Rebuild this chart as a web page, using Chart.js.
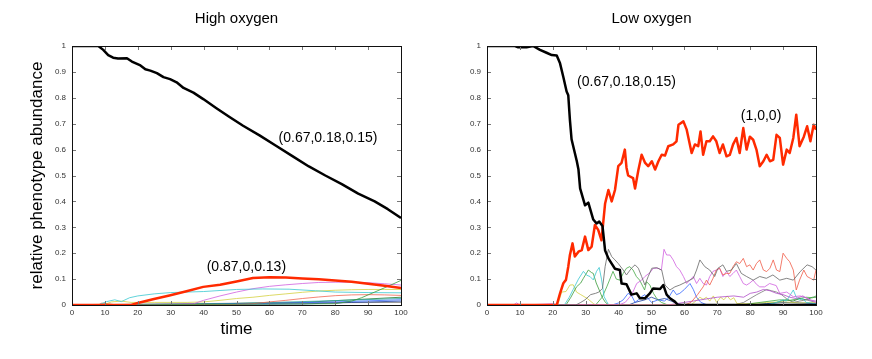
<!DOCTYPE html>
<html>
<head>
<meta charset="utf-8">
<script src="https://cdn.jsdelivr.net/npm/chart.js@4"></script>
<style>
body { margin: 0; background: #fff; }
#wrap { position: relative; width: 872px; height: 359px; }
canvas { position: absolute; top: 0; }
#hi { left: 0; }
#lo { left: 436px; }
</style>
</head>
<body>
<div id="wrap">
  <canvas id="hi" width="436" height="359"></canvas>
  <canvas id="lo" width="436" height="359"></canvas>
</div>
<script>
// ---- High oxygen ----
var hiBlackT = [0, 8, 9.5, 11, 12.5, 14, 16.7, 18.2, 20.8, 22.3, 23.8, 25.8, 27.8, 29.8, 31.8, 33.9, 36.9, 39.9, 43.9, 48, 52, 57, 62, 67, 72, 77, 82, 87, 92, 96, 100];
var hiBlackV = [1, 1, 0.985, 0.965, 0.955, 0.952, 0.953, 0.94, 0.925, 0.91, 0.905, 0.895, 0.88, 0.872, 0.86, 0.838, 0.82, 0.795, 0.76, 0.725, 0.692, 0.655, 0.615, 0.575, 0.535, 0.5, 0.467, 0.43, 0.4, 0.37, 0.336];
var hiRedT = [0, 18, 20, 24.6, 29.6, 34.8, 39.9, 45, 50, 55, 60, 65, 70, 75, 80, 85, 90, 95, 100];
var hiRedV = [0, 0, 0.008, 0.022, 0.037, 0.053, 0.07, 0.078, 0.091, 0.104, 0.107, 0.106, 0.102, 0.099, 0.095, 0.09, 0.082, 0.074, 0.066];
var hiCyanT = [8, 10.5, 13, 15, 17.5, 20, 25, 30, 35, 40, 45, 50, 58, 66, 74, 80, 90, 100];
var hiCyanV = [0, 0.013, 0.02, 0.013, 0.028, 0.035, 0.043, 0.048, 0.05, 0.052, 0.056, 0.06, 0.062, 0.061, 0.055, 0.05, 0.048, 0.047];
var hiMagT = [0, 30, 37, 40, 45, 50, 55, 60, 65, 70, 75, 80, 85, 90, 95, 100];
var hiMagV = [0, 0.003, 0.005, 0.018, 0.035, 0.05, 0.063, 0.072, 0.078, 0.083, 0.087, 0.088, 0.088, 0.086, 0.082, 0.077];
var hiYelT = [0, 10, 12, 15, 18, 25, 35, 40, 45, 50, 55, 60, 65, 70, 75, 80, 85, 90, 95, 100];
var hiYelV = [0, 0.003, 0.012, 0.015, 0.01, 0.01, 0.01, 0.012, 0.018, 0.025, 0.03, 0.037, 0.043, 0.049, 0.054, 0.057, 0.059, 0.06, 0.06, 0.06];
var hiSalT = [0, 8, 9, 11, 13, 50, 55, 60, 65, 70, 75, 80, 85, 90, 95, 100];
var hiSalV = [0, 0, 0.007, 0.005, 0.001, 0.002, 0.005, 0.012, 0.018, 0.025, 0.031, 0.036, 0.039, 0.04, 0.039, 0.037];
var hiGreenT = [0, 80, 85, 88, 92, 96, 100];
var hiGreenV = [0, 0.005, 0.015, 0.028, 0.05, 0.072, 0.095];
var hiBlueT = [0, 40, 60, 80, 100];
var hiBlueV = [0, 0.002, 0.006, 0.012, 0.02];
var hiNavyT = [0, 70, 85, 100];
var hiNavyV = [0, 0.004, 0.01, 0.015];
var hiTealT = [0, 50, 75, 100];
var hiTealV = [0, 0.006, 0.015, 0.025];
var hiGrayT = [0, 20, 60, 100];
var hiGrayV = [0, 0.003, 0.008, 0.01];
var hiDkGreenT = [0, 30, 70, 100];
var hiDkGreenV = [0, 0.002, 0.01, 0.03];

// ---- Low oxygen ----
var loBlackT = [0, 8.5, 9.5, 12, 14, 16.1, 18.1, 19.7, 21.2, 22.2, 23.2, 24.2, 24.7, 25.2, 25.7, 26.7, 27.3, 27.8, 28.3, 29.8, 30.8, 32.3, 33.3, 34.1, 35.1, 35.9, 36.9, 37.9, 38.9, 40.4, 40.9, 42.4, 43.9, 45.5, 46.5, 48, 49.5, 50.5, 52.6, 53.6, 54.6, 55.6, 57.1, 58.1, 100];
var loBlackV = [1, 1, 0.995, 0.995, 1, 0.985, 0.974, 0.965, 0.963, 0.933, 0.88, 0.824, 0.81, 0.715, 0.64, 0.587, 0.555, 0.523, 0.45, 0.385, 0.395, 0.33, 0.315, 0.322, 0.305, 0.21, 0.18, 0.16, 0.14, 0.135, 0.083, 0.08, 0.04, 0.045, 0.026, 0.026, 0.045, 0.064, 0.062, 0.077, 0.04, 0.026, 0.013, 0, 0];
var loRedT = [0, 21.2, 22.2, 23.2, 24, 24.7, 25.2, 26, 26.7, 27.8, 28.8, 29.8, 30.8, 31.8, 32.8, 33.8, 34.8, 35.9, 36.9, 37.9, 38.9, 39.9, 40.9, 41.9, 42.4, 42.9, 44.4, 45, 46, 47, 48, 49, 50.1, 51.1, 52.1, 53.1, 54.1, 55.1, 56.6, 57.6, 58.2, 59.7, 60.7, 62.2, 63.2, 64.2, 64.9, 65.7, 66.7, 67.7, 68.7, 69.7, 70.7, 71.7, 72.8, 73.8, 74.8, 75.8, 76.8, 77.9, 78.9, 79.9, 80.9, 81.9, 82.9, 84, 85, 86, 87, 88, 89, 90, 91.1, 92, 93.1, 94, 95, 96.3, 97.3, 98.3, 99.3, 100];
var loRedV = [0, 0, 0.045, 0.084, 0.097, 0.148, 0.193, 0.238, 0.187, 0.206, 0.212, 0.264, 0.212, 0.225, 0.309, 0.29, 0.25, 0.392, 0.444, 0.4, 0.444, 0.536, 0.549, 0.6, 0.53, 0.5, 0.49, 0.45, 0.52, 0.58, 0.55, 0.536, 0.555, 0.523, 0.555, 0.58, 0.577, 0.613, 0.62, 0.632, 0.696, 0.709, 0.677, 0.587, 0.62, 0.613, 0.67, 0.58, 0.632, 0.632, 0.651, 0.632, 0.587, 0.62, 0.574, 0.58, 0.62, 0.645, 0.587, 0.683, 0.6, 0.65, 0.638, 0.6, 0.536, 0.555, 0.58, 0.555, 0.56, 0.657, 0.645, 0.542, 0.6, 0.587, 0.645, 0.735, 0.613, 0.65, 0.69, 0.632, 0.696, 0.677];
var loYelT = [0, 21.5, 22.7, 24, 25.2, 26.2, 27.2, 28.5, 30.5, 32.3, 33, 62, 63.7, 64.7, 65.7, 66.7, 67.7, 68.8, 69.8, 71, 72, 73, 74, 75, 76, 80, 85, 90, 95, 100];
var loYelV = [0, 0, 0.05, 0.052, 0.077, 0.078, 0.05, 0.04, 0.025, 0.006, 0, 0, 0.018, 0.03, 0.022, 0.03, 0.015, 0.035, 0.01, 0.03, 0.02, 0.035, 0.02, 0.028, 0.005, 0.005, 0.01, 0.012, 0.008, 0.01];
var loCyanT = [0, 23.5, 25, 26.2, 27.8, 29.3, 30.3, 31.3, 32.3, 33.3, 34.1, 34.8, 35.6, 36.4, 37, 85, 88, 90, 91, 92, 93.1, 94, 95, 96, 97, 100];
var loCyanV = [0, 0, 0.03, 0.06, 0.1, 0.13, 0.115, 0.11, 0.097, 0.13, 0.145, 0.1, 0.032, 0.013, 0, 0, 0.01, 0.02, 0.015, 0.035, 0.058, 0.03, 0.02, 0.025, 0.01, 0.005];
var loGreenT = [0, 24, 25.5, 27.2, 28.5, 29.3, 30.8, 31.8, 32.3, 33.2, 34.1, 35, 36, 37, 100];
var loGreenV = [0, 0, 0.03, 0.07, 0.085, 0.103, 0.135, 0.125, 0.122, 0.085, 0.058, 0.03, 0.01, 0, 0];
var loGreen2T = [0, 33, 35, 36.4, 38.3, 39.3, 40.4, 41.4, 42.4, 43.4, 44.4, 45.4, 46.4, 47.9, 48.5, 49.5, 50.6, 51.6, 53, 55, 78, 80, 83, 86, 89, 92, 95, 97, 99, 100];
var loGreen2V = [0, 0, 0.03, 0.07, 0.13, 0.1, 0.096, 0.122, 0.142, 0.148, 0.135, 0.11, 0.096, 0.058, 0.09, 0.077, 0.045, 0.025, 0.01, 0, 0, 0.005, 0.01, 0.015, 0.02, 0.018, 0.025, 0.03, 0.028, 0.035];
var loGrayT = [0, 27, 28.5, 29.8, 31.5, 33, 34, 35.1, 35.9, 36.9, 37.9, 38.9, 39.9, 41.4, 42.4, 43.9, 45, 46, 47, 48, 49, 50.1, 51.6, 53.1, 54.1, 55.6, 57.1, 58.6, 60.7, 62.7, 63.7, 64.7, 66.2, 67.7, 69.2, 70.2, 71.7, 72.8, 74.3, 75.8, 77.3, 78.9, 80.9, 82.9, 84.9, 86.9, 89, 91.1, 93.1, 95.2, 97.3, 98.8, 100];
var loGrayV = [0, 0, 0.01, 0.02, 0.04, 0.045, 0.05, 0.064, 0.148, 0.215, 0.187, 0.174, 0.16, 0.135, 0.116, 0.142, 0.155, 0.142, 0.11, 0.077, 0.11, 0.142, 0.144, 0.135, 0.077, 0.058, 0.07, 0.077, 0.09, 0.103, 0.135, 0.174, 0.148, 0.135, 0.11, 0.142, 0.155, 0.13, 0.135, 0.16, 0.122, 0.11, 0.096, 0.11, 0.103, 0.116, 0.096, 0.103, 0.096, 0.129, 0.155, 0.148, 0.135];
var loMagT = [0, 8, 9, 10, 17, 20, 22, 40, 42, 44, 45.5, 47, 48, 49.5, 50.6, 52, 53, 53.8, 54.6, 55.6, 56.6, 57.6, 58.6, 59.7, 60.7, 61.7, 62.7, 63.7, 64.7, 65.7, 66.7, 67.7, 68.7, 69.7, 70.7, 71.7, 72.8, 73.8, 74.8, 75.8, 76.8, 77.9, 78.9, 79.9, 80.9, 81.9, 82.9, 84.4, 85.9, 87.9, 89, 91.1, 93.1, 95.2, 97.3, 99.3, 100];
var loMagV = [0, 0, 0.008, 0, 0.003, 0.005, 0, 0, 0.01, 0.04, 0.083, 0.096, 0.11, 0.125, 0.142, 0.142, 0.135, 0.215, 0.193, 0.193, 0.174, 0.148, 0.135, 0.11, 0.083, 0.096, 0.11, 0.083, 0.103, 0.083, 0.077, 0.11, 0.13, 0.135, 0.142, 0.11, 0.13, 0.11, 0.122, 0.135, 0.11, 0.083, 0.077, 0.085, 0.096, 0.08, 0.07, 0.07, 0.083, 0.075, 0.045, 0.05, 0.032, 0.035, 0.026, 0.013, 0.01];
var loMag2T = [0, 55, 60, 65, 70, 75, 78, 80, 82, 84, 86, 88, 90, 92, 94, 96, 98, 100];
var loMag2V = [0, 0, 0.01, 0.02, 0.03, 0.035, 0.03, 0.045, 0.05, 0.06, 0.055, 0.045, 0.04, 0.03, 0.025, 0.035, 0.02, 0.015];
var loSalT = [0, 60, 62, 64, 65.7, 66.7, 67.7, 68.7, 69.7, 70.7, 71.7, 72.8, 73.8, 74.8, 75.8, 76.8, 77.9, 78.9, 79.9, 80.9, 81.9, 82.9, 84, 85, 86, 87, 88, 89, 90, 91.1, 92, 93.1, 94, 95, 96.3, 97.3, 98.3, 99.3, 100];
var loSalV = [0, 0, 0.01, 0.04, 0.07, 0.096, 0.077, 0.103, 0.135, 0.142, 0.116, 0.122, 0.122, 0.148, 0.167, 0.16, 0.18, 0.148, 0.155, 0.135, 0.16, 0.174, 0.135, 0.129, 0.142, 0.174, 0.135, 0.129, 0.2, 0.18, 0.167, 0.135, 0.058, 0.096, 0.135, 0.11, 0.103, 0.096, 0.135];
var loBlueT = [0, 38, 40, 41.4, 42.9, 44, 45, 46, 47, 48, 49, 50, 52, 54, 55.5, 56.6, 57.6, 58.6, 60, 61.7, 62.7, 63.7, 65, 67, 100];
var loBlueV = [0, 0, 0.008, 0.02, 0.045, 0.035, 0.01, 0.02, 0.032, 0.04, 0.025, 0.01, 0.02, 0.015, 0.035, 0.058, 0.04, 0.045, 0.06, 0.083, 0.06, 0.03, 0.01, 0, 0];
var loNavyT = [0, 43, 45, 48, 50, 52, 54, 56, 58, 60, 80, 85, 90, 95, 100];
var loNavyV = [0, 0, 0.01, 0.02, 0.03, 0.02, 0.025, 0.015, 0.005, 0, 0, 0.005, 0.01, 0.008, 0.005];
var loGray2T = [0, 75, 78, 80, 82, 83.5, 85, 86.5, 88, 89.5, 91, 93, 95, 97, 100];
var loGray2V = [0, 0, 0.01, 0.025, 0.04, 0.05, 0.06, 0.055, 0.05, 0.04, 0.025, 0.01, 0.015, 0.02, 0.01];
var loDkGreenT = [0, 80, 85, 88, 91, 93, 95, 97, 99, 100];
var loDkGreenV = [0, 0, 0.005, 0.01, 0.02, 0.015, 0.025, 0.02, 0.03, 0.03];

var xTicks = [0, 10, 20, 30, 40, 50, 60, 70, 80, 90, 100];
var yTicks = [0, 0.1, 0.2, 0.3, 0.4, 0.5, 0.6, 0.7, 0.8, 0.9, 1];

function pts(t, v) {
  return t.map(function(x, i) { return {x: x, y: v[i]}; });
}
function thick(t, v, c) {
  return {data: pts(t, v), borderColor: c, borderWidth: 2.5};
}
function thin(t, v, c) {
  return {data: pts(t, v), borderColor: c, borderWidth: 0.8};
}

Chart.defaults.font.family = '"Liberation Sans", Arial, sans-serif';
Chart.defaults.color = '#222';

// frame, inner tick marks, panel title and curve labels
var frame = {
  id: 'frame',
  afterDraw: function(chart, args, opts) {
    var ctx = chart.ctx, a = chart.chartArea, x = chart.scales.x, y = chart.scales.y;
    ctx.save();
    ctx.strokeStyle = '#777';
    ctx.lineWidth = 1;
    ctx.beginPath();
    xTicks.forEach(function(v) {
      var px = Math.round(x.getPixelForValue(v)) + 0.5;
      ctx.moveTo(px, a.bottom); ctx.lineTo(px, a.bottom - 4);
      ctx.moveTo(px, a.top); ctx.lineTo(px, a.top + 4);
    });
    yTicks.forEach(function(v) {
      var py = Math.round(y.getPixelForValue(v)) + 0.5;
      ctx.moveTo(a.left, py); ctx.lineTo(a.left + 4, py);
      ctx.moveTo(a.right, py); ctx.lineTo(a.right - 4, py);
    });
    ctx.stroke();
    ctx.strokeStyle = '#111';
    ctx.strokeRect(Math.round(a.left) + 0.5, Math.round(a.top) + 0.5, Math.round(a.width), Math.round(a.height));
    ctx.fillStyle = '#000';
    ctx.textAlign = 'center';
    ctx.textBaseline = 'middle';
    ctx.font = '15px "Liberation Sans", Arial, sans-serif';
    ctx.fillText(opts.title, (a.left + a.right) / 2, 19);
    ctx.font = '14px "Liberation Sans", Arial, sans-serif';
    opts.notes.forEach(function(n) {
      ctx.fillText(n.text, x.getPixelForValue(n.x), y.getPixelForValue(n.y));
    });
    ctx.restore();
  }
};

function makeChart(id, title, sets, notes, yWidth, padRight, yTitle) {
  return new Chart(document.getElementById(id), {
    type: 'line',
    data: {datasets: sets},
    options: {
      responsive: false,
      animation: false,
      parsing: false,
      layout: {padding: {top: 46, right: padRight, bottom: 0, left: 0}},
      elements: {point: {radius: 0}, line: {tension: 0, borderJoinStyle: 'round', fill: false}},
      plugins: {legend: {display: false}, tooltip: {enabled: false},
        frame: {title: title, notes: notes}},
      scales: {
        x: {
          type: 'linear', min: 0, max: 100,
          grid: {display: false, drawTicks: false}, border: {display: false},
          ticks: {stepSize: 10, padding: 3, font: {size: 8}, color: '#333', maxRotation: 0},
          title: {display: true, text: 'time', color: '#000', font: {size: 17}, padding: {top: 0, bottom: 19}},
          afterFit: function(s) { s.height = 54; }
        },
        y: {
          type: 'linear', min: 0, max: 1,
          grid: {display: false, drawTicks: false}, border: {display: false},
          ticks: {stepSize: 0.1, padding: 6, font: {size: 8}, color: '#333',
            callback: function(v) { return String(Math.round(v * 10) / 10); }},
          title: {display: !!yTitle, text: yTitle || '', color: '#000', font: {size: 17}, padding: {top: 27, bottom: 0}},
          afterFit: function(s) { s.width = yWidth; }
        }
      }
    },
    plugins: [frame]
  });
}

makeChart('hi', 'High oxygen', [
  thick(hiBlackT, hiBlackV, '#000000'),
  thick(hiRedT, hiRedV, '#ff2a00'),
  thin(hiGreenT, hiGreenV, '#3a9c3a'),
  thin(hiCyanT, hiCyanV, '#38c8d0'),
  thin(hiMagT, hiMagV, '#d060e0'),
  thin(hiYelT, hiYelV, '#d4d040'),
  thin(hiSalT, hiSalV, '#f06450'),
  thin(hiBlueT, hiBlueV, '#3366ff'),
  thin(hiNavyT, hiNavyV, '#1c3c9c'),
  thin(hiTealT, hiTealV, '#2aa0a0'),
  thin(hiGrayT, hiGrayV, '#777777'),
  thin(hiDkGreenT, hiDkGreenV, '#1f7a2a')
], [
  {text: '(0.67,0.18,0.15)', x: 77.8, y: 0.645},
  {text: '(0.87,0,0.13)', x: 53, y: 0.147}
], 72, 35, 'relative phenotype abundance');

makeChart('lo', 'Low oxygen', [
  thick(loBlackT, loBlackV, '#000000'),
  thick(loRedT, loRedV, '#ff2a00'),
  thin(loGrayT, loGrayV, '#666666'),
  thin(loSalT, loSalV, '#f05a46'),
  thin(loMagT, loMagV, '#d060e0'),
  thin(loMag2T, loMag2V, '#b04cc8'),
  thin(loCyanT, loCyanV, '#38c8d0'),
  thin(loGreenT, loGreenV, '#3a9c3a'),
  thin(loGreen2T, loGreen2V, '#44a844'),
  thin(loYelT, loYelV, '#d4d040'),
  thin(loBlueT, loBlueV, '#3366ff'),
  thin(loNavyT, loNavyV, '#1c3c9c'),
  thin(loGray2T, loGray2V, '#777777'),
  thin(loDkGreenT, loDkGreenV, '#1f7a2a')
], [
  {text: '(0.67,0.18,0.15)', x: 42.4, y: 0.862},
  {text: '(1,0,0)', x: 83.3, y: 0.73}
], 51, 56, null);
</script>
</body>
</html>
